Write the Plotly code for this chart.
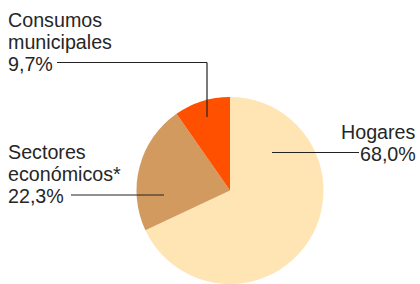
import plotly.graph_objects as go

W, H = 420, 284

categories = ["Hogares", "Sectores económicos*", "Consumos municipales"]
values = [68.0, 22.3, 9.7]
colors = ["#FFE4B4", "#D39A5F", "#FF5000"]
label_lines = [
    ["Hogares", "68,0%"],
    ["Sectores", "económicos*", "22,3%"],
    ["Consumos", "municipales", "9,7%"],
]

def px(x):
    return x / W

def py(y):
    return 1 - y / H

# pie geometry (pixels)
cx, cy, R = 230, 190.5, 93.5

fig = go.Figure(go.Pie(
    labels=categories,
    values=values,
    sort=False,
    direction="clockwise",
    rotation=0,
    textinfo="none",
    hoverinfo="label+percent",
    marker=dict(colors=colors, line=dict(width=0)),
    domain=dict(x=[px(cx - R), px(cx + R)], y=[py(cy + R), py(cy - R)]),
    showlegend=False,
))

FONT = dict(family="Liberation Sans, Arial, sans-serif", size=19.7, color="#262626")
LH = 22
asc_off = 6.7  # baseline -> middle of text box

annotations = []
shapes = []

def add_block(lines, x, base_y, align):
    for i, t in enumerate(lines):
        annotations.append(dict(
            text=t, x=px(x), y=py(base_y + i * LH - asc_off),
            xref="paper", yref="paper", showarrow=False,
            xanchor=align, yanchor="middle", font=FONT, borderpad=0,
        ))

def line(x0, y0, x1, y1):
    shapes.append(dict(type="line", xref="paper", yref="paper",
                       x0=px(x0), y0=py(y0), x1=px(x1), y1=py(y1),
                       line=dict(color="#222222", width=1.2)))

# Hogares
add_block(label_lines[0], 417, 138.5, "right")
line(272, 152.5, 359, 152.5)
# Sectores
add_block(label_lines[1], 7, 158.5, "left")
line(71, 195, 164, 195)
# Consumos
add_block(label_lines[2], 7, 26.5, "left")
line(57, 62.5, 207, 62.5)
line(207, 62.5, 207, 117)

fig.update_layout(
    width=W, height=H,
    margin=dict(l=0, r=0, t=0, b=0),
    paper_bgcolor="white", plot_bgcolor="white",
    annotations=annotations, shapes=shapes,
)

fig.write_html("out.html", config={"displayModeBar": False},
               post_script="document.body.style.margin='0';document.body.style.overflow='hidden';")
